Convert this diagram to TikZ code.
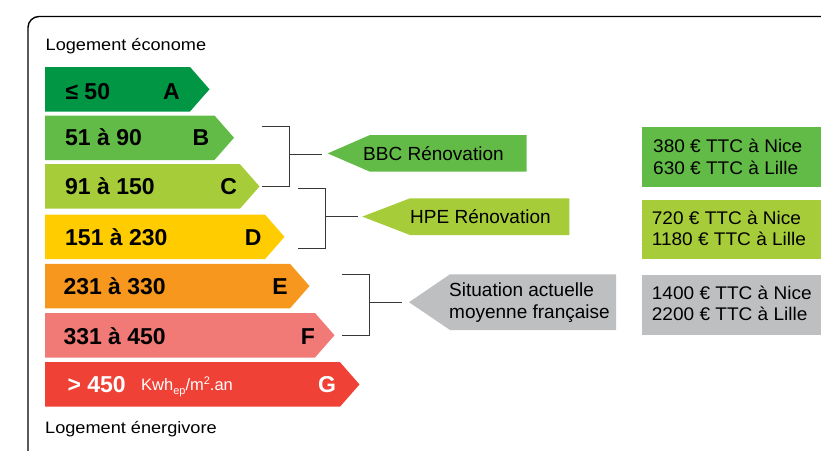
\documentclass[tikz,border=0pt]{standalone}
\usepackage{fontspec}
\setmainfont{Liberation Sans}
\newfontfamily\widefont[FakeStretch=1.1]{Liberation Sans}
\newfontfamily\boxfont[FakeStretch=1.04]{Liberation Sans}
\usetikzlibrary{calc}
\definecolor{cA}{RGB}{0,150,68}
\definecolor{cB}{RGB}{98,187,70}
\definecolor{cC}{RGB}{167,204,57}
\definecolor{cD}{RGB}{255,204,0}
\definecolor{cE}{RGB}{247,151,29}
\definecolor{cF}{RGB}{241,122,118}
\definecolor{cG}{RGB}{239,65,54}
\definecolor{cGray}{RGB}{190,191,193}
\definecolor{brk}{RGB}{55,55,55}
\newcommand\ebar[3]{% top, rect end, colour
  \fill[#3] (45,#1) -- (#2,#1) -- ++(19.5,22.25) -- ++(-19.5,22.25) -- (45,{#1+44.5}) -- cycle;}
\begin{document}
\begin{tikzpicture}[x=1pt,y=-1pt,
  bartxt/.style={inner sep=0pt,anchor=base west,font=\fontsize{23}{23}\selectfont\bfseries},
  barlet/.style={inner sep=0pt,anchor=base,font=\fontsize{23}{23}\selectfont\bfseries},
  head/.style={inner sep=0pt,anchor=base west,font=\fontsize{16.5}{16.5}\selectfont\widefont},
  labtxt/.style={inner sep=0pt,anchor=base west,font=\fontsize{19}{19}\selectfont},
  boxtxt/.style={inner sep=0pt,anchor=base west,font=\fontsize{18.3}{18.3}\selectfont\boxfont},
  bracket/.style={draw=brk,line width=1pt}]
\useasboundingbox (0,0) rectangle (821,450);
\clip (0,0) rectangle (821,450);
% frame
\draw[line width=1.4pt,rounded corners=11pt] (28,470) -- (28,16.5) -- (850,16.5);
% headings
\node[head] (top) at (45.5,50) {Logement économe};
\node[head] (bot) at (45,433) {Logement énergivore};
% bars
\ebar{67}{190}{cA}
\ebar{115.5}{214.5}{cB}
\ebar{164.2}{240}{cC}
\ebar{214.6}{265}{cD}
\ebar{263.8}{290}{cE}
\ebar{313}{315}{cF}
\ebar{362.2}{340}{cG}
\node[bartxt] (rA) at (65.3,99.3) {≤ 50};
\node[barlet] (lA) at (171.5,99.3) {A};
\node[bartxt] (rB) at (65,145.3) {51 à 90};
\node[barlet] (lB) at (201,145.3) {B};
\node[bartxt] (rC) at (65,194) {91 à 150};
\node[barlet] (lC) at (228.7,194) {C};
\node[bartxt] (rD) at (65,245) {151 à 230};
\node[barlet] (lD) at (253.3,245) {D};
\node[bartxt] (rE) at (63.3,294.3) {231 à 330};
\node[barlet] (lE) at (280,294.3) {E};
\node[bartxt] (rF) at (63.3,344) {331 à 450};
\node[barlet] (lF) at (308,344) {F};
\node[bartxt,text=white] (rG) at (67.3,392.7) {> 450};
\node[inner sep=0pt,anchor=base west,text=white,font=\fontsize{16.5}{16.5}\selectfont] (unit) at (141,390)
  {Kwh\raisebox{-4.5pt}{\fontsize{11}{11}\selectfont ep}/m\raisebox{6pt}{\fontsize{11}{11}\selectfont 2}.an};
\node[barlet,text=white] (lG) at (327,392.7) {G};
% label arrows
\fill[cB] (327.7,153.4) -- (370,135) -- (526.7,135) -- (526.7,171.7) -- (370,171.7) -- cycle;
\coordinate (tipB) at (321.7,154);
\node[labtxt] (bbc) at (363,160) {BBC Rénovation};
\fill[cC] (362.3,216.6) -- (410,198.3) -- (569.3,198.3) -- (569.3,235) -- (410,235) -- cycle;
\coordinate (tipH) at (358.3,216);
\node[labtxt] (hpe) at (410,223.3) {HPE Rénovation};
\fill[cGray] (409,302.2) -- (450,274.3) -- (616,274.3) -- (616,330) -- (450,330) -- cycle;
\coordinate (tipS) at (401.7,302.3);
\node[labtxt] (sit1) at (449,296.7) {Situation actuelle};
\node[labtxt] (sit2) at (449,318.3) {moyenne française};
% brackets
\coordinate (b1t) at (261.7,126.7); \coordinate (b1b) at (261.7,186);
\draw[bracket] (b1t) -- (289.5,126.7) -- (289.5,186) -- (b1b);
\draw[bracket] (289.5,154) -- (tipB);
\coordinate (b2t) at (298.3,188.3); \coordinate (b2b) at (298.3,248.3);
\draw[bracket] (b2t) -- (325.7,188.3) -- (325.7,248.3) -- (b2b);
\draw[bracket] (325.7,216) -- (tipH);
\coordinate (b3t) at (341.7,274.7); \coordinate (b3b) at (341.7,335);
\draw[bracket] (b3t) -- (369,274.7) -- (369,335) -- (b3b);
\draw[bracket] (369,302.3) -- (tipS);
% cost boxes
\fill[cB] (641.7,126.7) rectangle (830,187.3);
\node[boxtxt] (n1) at (653,152.3) {380 € TTC à Nice};
\node[boxtxt] (l1) at (653,174) {630 € TTC à Lille};
\fill[cC] (641.7,200) rectangle (830,259);
\node[boxtxt] (n2) at (651.7,224) {720 € TTC à Nice};
\node[boxtxt] (l2) at (651.7,245.7) {1180 € TTC à Lille};
\fill[cGray] (641.7,275) rectangle (830,335);
\node[boxtxt] (n3) at (651.7,299) {1400 € TTC à Nice};
\node[boxtxt] (l3) at (651.7,320.7) {2200 € TTC à Lille};
\end{tikzpicture}
\end{document}
